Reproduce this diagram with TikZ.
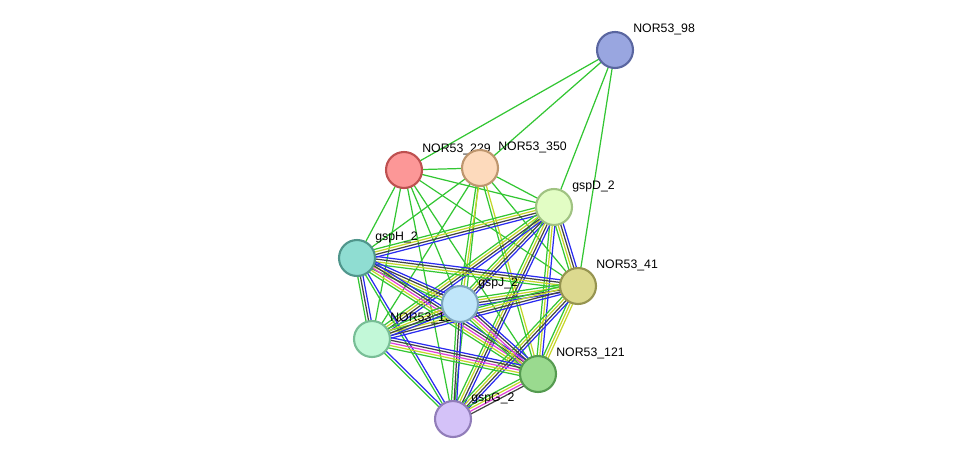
\documentclass[tikz,border=0pt]{standalone}
\usepackage{fontspec}
\setmainfont{Liberation Sans}
\usetikzlibrary{calc}
\definecolor{eg}{HTML}{33C633}
\definecolor{ey}{HTML}{C4D62A}
\definecolor{ek}{HTML}{444444}
\definecolor{eb}{HTML}{2A2AF0}
\definecolor{em}{HTML}{E040D8}
\tikzset{
 e/.style={line width=0.7pt},
 nd/.style={circle,minimum size=0.72cm,inner sep=0,line width=1.2pt},
 lb/.style={anchor=west,inner sep=0,font=\fontsize{7}{8}\selectfont}
}
\newcommand\ml[4]{% a b n colors
 \foreach \c [count=\i] in {#4} {
  \pgfmathsetmacro\off{(\i-(#3+1)/2)*1.5}
  \draw[e,\c] ($(#1)!\off pt!90:(#2)$) -- ($(#2)!\off pt!-90:(#1)$);
 }}
\begin{document}
\begin{tikzpicture}[x=0.02cm,y=-0.02cm]
\useasboundingbox (0,0) rectangle (976,464);
\coordinate (n98) at (615,50);
\coordinate (n229) at (404,170);
\coordinate (n350) at (480,168);
\coordinate (D) at (554,207);
\coordinate (H) at (357,258);
\coordinate (n41) at (578,286);
\coordinate (J) at (460,304);
\coordinate (n13) at (372,339);
\coordinate (n121) at (538,374);
\coordinate (G) at (453,419);
% green single edges
\foreach \a/\b in {n98/n229,n98/n350,n98/D,n98/n41,
 n229/n350,n229/D,n229/H,n229/J,n229/n13,n229/n121,n229/n41,n229/G,
 n350/D,n350/H,n350/n13,n350/n41,n350/G}
 \draw[e,eg] (\a) -- (\b);
\ml{n350}{J}{2}{eg,ey}
\ml{n350}{n121}{2}{eg,ey}
% core
\ml{D}{H}{4}{eg,ey,ek,eb}
\ml{D}{n41}{4}{eg,ey,ek,eb}
\ml{D}{J}{4}{eg,ey,ek,eb}
\ml{D}{n13}{4}{eg,ey,ek,eb}
\ml{D}{n121}{3}{eg,ey,eb}
\ml{D}{G}{4}{eg,ey,ek,eb}
\ml{H}{n41}{4}{eg,ey,ek,eb}
\ml{H}{J}{4}{eg,ey,ek,eb}
\ml{H}{n13}{3}{eg,ek,eb}
\ml{H}{n121}{5}{eg,ey,em,ek,eb}
\ml{H}{G}{2}{eg,eb}
\ml{n41}{J}{4}{eg,ey,ek,eb}
\ml{n41}{n13}{4}{eg,ey,ek,eb}
\ml{n41}{n121}{3}{eg,ey,ey}
\ml{n41}{G}{4}{eg,ey,ek,eb}
\ml{J}{n13}{4}{eg,ey,ek,eb}
\ml{J}{n121}{5}{eg,ey,em,ek,eb}
\ml{J}{G}{3}{eg,ek,eb}
\ml{n13}{n121}{5}{eg,ey,em,ek,eb}
\ml{n13}{G}{2}{eg,eb}
\ml{n121}{G}{4}{eg,ey,em,ek}
% labels
\foreach \p/\t in {n98/NOR53\_98,n229/NOR53\_229,n350/NOR53\_350,D/gspD\_2,H/gspH\_2,n41/NOR53\_41,n13/NOR53\_13,J/gspJ\_2,n121/NOR53\_121,G/gspG\_2}
 \node[lb] (l\p) at ($(\p)+(18,-21)$) {\t};
% nodes
\node[nd,fill={rgb,255:red,153;green,166;blue,224},draw={rgb,255:red,90;green,102;blue,160}] (a98) at (n98) {};
\node[nd,fill={rgb,255:red,252;green,151;blue,151},draw={rgb,255:red,190;green,80;blue,80}] (a229) at (n229) {};
\node[nd,fill={rgb,255:red,253;green,218;blue,188},draw={rgb,255:red,190;green,150;blue,110}] (a350) at (n350) {};
\node[nd,fill={rgb,255:red,226;green,253;blue,196},draw={rgb,255:red,160;green,195;blue,130}] (aD) at (D) {};
\node[nd,fill={rgb,255:red,143;green,221;blue,210},draw={rgb,255:red,80;green,150;blue,140}] (aH) at (H) {};
\node[nd,fill={rgb,255:red,220;green,217;blue,143},draw={rgb,255:red,150;green,148;blue,80}] (a41) at (n41) {};
\node[nd,fill={rgb,255:red,192;green,230;blue,250},draw={rgb,255:red,125;green,165;blue,190}] (aJ) at (J) {};
\node[nd,fill={rgb,255:red,194;green,248;blue,216},draw={rgb,255:red,120;green,190;blue,150}] (a13) at (n13) {};
\node[nd,fill={rgb,255:red,154;green,218;blue,143},draw={rgb,255:red,85;green,155;blue,80}] (a121) at (n121) {};
\node[nd,fill={rgb,255:red,212;green,194;blue,248},draw={rgb,255:red,145;green,125;blue,185}] (aG) at (G) {};
\end{tikzpicture}
\end{document}
